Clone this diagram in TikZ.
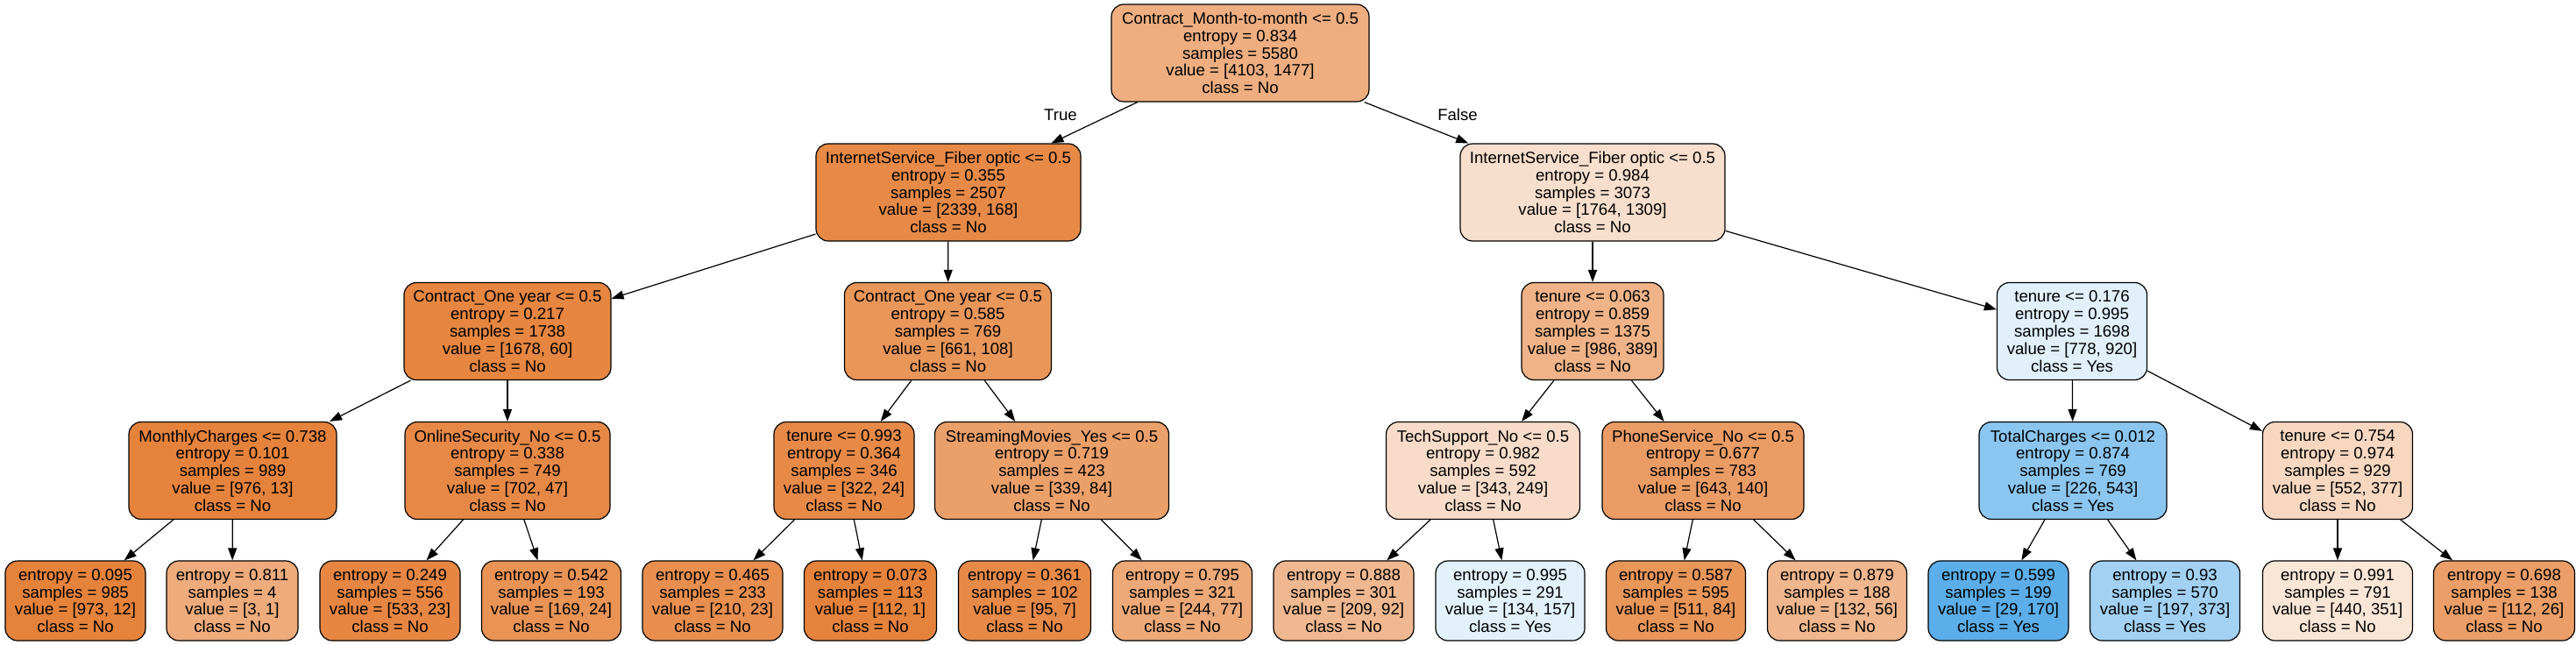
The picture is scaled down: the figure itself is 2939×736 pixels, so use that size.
\documentclass[tikz,border=0pt]{standalone}
\usepackage{fontspec}
\setmainfont{Liberation Sans}
\usetikzlibrary{arrows.meta}
\definecolor{cno}{RGB}{229,129,57}
\definecolor{cyes}{RGB}{57,157,229}
\tikzset{
  tnode/.style={draw=black, line width=1.2pt, rounded corners=14pt, inner sep=0pt,
    align=center, font=\fontsize{18.6}{19.8}\selectfont, minimum height=111pt},
  leaf/.style={tnode, minimum height=91pt},
  edge/.style={draw=black, line width=1.2pt, -{Triangle[length=14pt,width=10pt]}},
  elabel/.style={font=\fontsize{18.6}{19.8}\selectfont, inner sep=0pt}
}
\begin{document}
\begin{tikzpicture}[x=1pt,y=-1pt]
\useasboundingbox (0,0) rectangle (2939,736);
% level 0
\node[tnode, fill=cno!64!white, minimum width=294pt] (root) at (1415,60.5)
  {Contract\_Month-to-month <= 0.5\\entropy = 0.834\\samples = 5580\\value = [4103, 1477]\\class = No};
% level 1
\node[tnode, fill=cno!92.8!white, minimum width=302pt] (n1) at (1082,219.5)
  {InternetService\_Fiber optic <= 0.5\\entropy = 0.355\\samples = 2507\\value = [2339, 168]\\class = No};
\node[tnode, fill=cno!25.8!white, minimum width=302pt] (n2) at (1817,219.5)
  {InternetService\_Fiber optic <= 0.5\\entropy = 0.984\\samples = 3073\\value = [1764, 1309]\\class = No};
% level 2
\node[tnode, fill=cno!96.4!white, minimum width=236pt] (n3) at (579,378)
  {Contract\_One year <= 0.5\\entropy = 0.217\\samples = 1738\\value = [1678, 60]\\class = No};
\node[tnode, fill=cno!83.7!white, minimum width=236pt] (n4) at (1081.5,378)
  {Contract\_One year <= 0.5\\entropy = 0.585\\samples = 769\\value = [661, 108]\\class = No};
\node[tnode, fill=cno!60.5!white, minimum width=162pt] (n5) at (1817,378)
  {tenure <= 0.063\\entropy = 0.859\\samples = 1375\\value = [986, 389]\\class = No};
\node[tnode, fill=cyes!15.4!white, minimum width=171pt] (n6) at (2364,378)
  {tenure <= 0.176\\entropy = 0.995\\samples = 1698\\value = [778, 920]\\class = Yes};
% level 3
\node[tnode, fill=cno!98.7!white, minimum width=237pt] (n7) at (265.5,537)
  {MonthlyCharges <= 0.738\\entropy = 0.101\\samples = 989\\value = [976, 13]\\class = No};
\node[tnode, fill=cno!93.3!white, minimum width=234pt] (n8) at (579,537)
  {OnlineSecurity\_No <= 0.5\\entropy = 0.338\\samples = 749\\value = [702, 47]\\class = No};
\node[tnode, fill=cno!92.5!white, minimum width=160pt] (n9) at (963,537)
  {tenure <= 0.993\\entropy = 0.364\\samples = 346\\value = [322, 24]\\class = No};
\node[tnode, fill=cno!75.2!white, minimum width=267pt] (n10) at (1200,537)
  {StreamingMovies\_Yes <= 0.5\\entropy = 0.719\\samples = 423\\value = [339, 84]\\class = No};
\node[tnode, fill=cno!27.4!white, minimum width=221pt] (n11) at (1692,537)
  {TechSupport\_No <= 0.5\\entropy = 0.982\\samples = 592\\value = [343, 249]\\class = No};
\node[tnode, fill=cno!78.2!white, minimum width=230pt] (n12) at (1943,537)
  {PhoneService\_No <= 0.5\\entropy = 0.677\\samples = 783\\value = [643, 140]\\class = No};
\node[tnode, fill=cyes!58.4!white, minimum width=214pt] (n13) at (2365,537)
  {TotalCharges <= 0.012\\entropy = 0.874\\samples = 769\\value = [226, 543]\\class = Yes};
\node[tnode, fill=cno!31.7!white, minimum width=171pt] (n14) at (2667,537)
  {tenure <= 0.754\\entropy = 0.974\\samples = 929\\value = [552, 377]\\class = No};
% leaves
\node[leaf, fill=cno!98.8!white, minimum width=160pt] (l1) at (86,685.5)
  {entropy = 0.095\\samples = 985\\value = [973, 12]\\class = No};
\node[leaf, fill=cno!66.7!white, minimum width=150pt] (l2) at (265,685.5)
  {entropy = 0.811\\samples = 4\\value = [3, 1]\\class = No};
\node[leaf, fill=cno!95.7!white, minimum width=160pt] (l3) at (445,685.5)
  {entropy = 0.249\\samples = 556\\value = [533, 23]\\class = No};
\node[leaf, fill=cno!85.8!white, minimum width=159pt] (l4) at (629,685.5)
  {entropy = 0.542\\samples = 193\\value = [169, 24]\\class = No};
\node[leaf, fill=cno!89.0!white, minimum width=160pt] (l5) at (813,685.5)
  {entropy = 0.465\\samples = 233\\value = [210, 23]\\class = No};
\node[leaf, fill=cno!99.1!white, minimum width=151pt] (l6) at (993,685.5)
  {entropy = 0.073\\samples = 113\\value = [112, 1]\\class = No};
\node[leaf, fill=cno!92.6!white, minimum width=151pt] (l7) at (1169,685.5)
  {entropy = 0.361\\samples = 102\\value = [95, 7]\\class = No};
\node[leaf, fill=cno!68.4!white, minimum width=159pt] (l8) at (1349,685.5)
  {entropy = 0.795\\samples = 321\\value = [244, 77]\\class = No};
\node[leaf, fill=cno!56.0!white, minimum width=160pt] (l9) at (1533,685.5)
  {entropy = 0.888\\samples = 301\\value = [209, 92]\\class = No};
\node[leaf, fill=cyes!14.6!white, minimum width=170pt] (l10) at (1723,685.5)
  {entropy = 0.995\\samples = 291\\value = [134, 157]\\class = Yes};
\node[leaf, fill=cno!83.6!white, minimum width=159pt] (l11) at (1912,685.5)
  {entropy = 0.587\\samples = 595\\value = [511, 84]\\class = No};
\node[leaf, fill=cno!57.6!white, minimum width=159pt] (l12) at (2096,685.5)
  {entropy = 0.879\\samples = 188\\value = [132, 56]\\class = No};
\node[leaf, fill=cyes!82.9!white, minimum width=160pt] (l13) at (2280,685.5)
  {entropy = 0.599\\samples = 199\\value = [29, 170]\\class = Yes};
\node[leaf, fill=cyes!47.2!white, minimum width=171pt] (l14) at (2470,685.5)
  {entropy = 0.93\\samples = 570\\value = [197, 373]\\class = Yes};
\node[leaf, fill=cno!20.2!white, minimum width=171pt] (l15) at (2667,685.5)
  {entropy = 0.991\\samples = 791\\value = [440, 351]\\class = No};
\node[leaf, fill=cno!76.8!white, minimum width=161pt] (l16) at (2857,685.5)
  {entropy = 0.698\\samples = 138\\value = [112, 26]\\class = No};
% edges
\draw[edge] (root) -- (n1);
\draw[edge] (root) -- (n2);
\draw[edge] (n1) -- (n3);
\draw[edge] (n1) -- (n4);
\draw[edge] (n2) -- (n5);
\draw[edge] (n2) -- (n6);
\draw[edge] (n3) -- (n7);
\draw[edge] (n3) -- (n8);
\draw[edge] (n4) -- (n9);
\draw[edge] (n4) -- (n10);
\draw[edge] (n5) -- (n11);
\draw[edge] (n5) -- (n12);
\draw[edge] (n6) -- (n13);
\draw[edge] (n6) -- (n14);
\draw[edge] (n7) -- (l1);
\draw[edge] (n7) -- (l2);
\draw[edge] (n8) -- (l3);
\draw[edge] (n8) -- (l4);
\draw[edge] (n9) -- (l5);
\draw[edge] (n9) -- (l6);
\draw[edge] (n10) -- (l7);
\draw[edge] (n10) -- (l8);
\draw[edge] (n11) -- (l9);
\draw[edge] (n11) -- (l10);
\draw[edge] (n12) -- (l11);
\draw[edge] (n12) -- (l12);
\draw[edge] (n13) -- (l13);
\draw[edge] (n13) -- (l14);
\draw[edge] (n14) -- (l15);
\draw[edge] (n14) -- (l16);
% edge labels
\node[elabel] (ltrue) at (1210,131) {True};
\node[elabel] (lfalse) at (1663,131) {False};
\end{tikzpicture}
\end{document}
